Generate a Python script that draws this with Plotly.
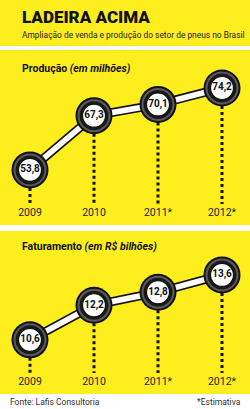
import plotly.graph_objects as go

years = ["2009", "2010", "2011*", "2012*"]
producao = [53.8, 67.3, 70.1, 74.2]
faturamento = [10.6, 12.2, 12.8, 13.6]
labels_prod = ["53,8", "67,3", "70,1", "74,2"]
labels_fat = ["10,6", "12,2", "12,8", "13,6"]

W, H = 250, 409
YELLOW = "#FFEE1D"
FAMILY = "Roboto, Liberation Sans, sans-serif"

def fnt(size, color="#111111", weight=None):
    d = dict(family=FAMILY, size=size, color=color)
    if weight:
        d["weight"] = weight
    return d

def py(px):
    return 1 - px / H

def px_x(px):
    return px / W

xs = list(range(len(years)))

fig = go.Figure()

r1 = [45.3, 81.17]
r2 = [9.07, 14.52]

def add_panel(vals, labels, xa, ya, ymin):
    fig.add_trace(go.Scatter(x=xs, y=vals, mode="lines", xaxis=xa, yaxis=ya,
                             line=dict(color="#111111", width=9), hoverinfo="skip"))
    fig.add_trace(go.Scatter(x=xs, y=vals, mode="lines", xaxis=xa, yaxis=ya,
                             line=dict(color="white", width=5.5), hoverinfo="skip"))
    for x, v in zip(xs, vals):
        fig.add_trace(go.Scatter(x=[x, x], y=[v, ymin], mode="lines", xaxis=xa, yaxis=ya,
                                 line=dict(color="#111111", width=3, dash="dot"),
                                 hoverinfo="skip"))
    for size, color in [(37, "#111111"), (33, "#5c5c5c"), (29, "#1a1a1a")]:
        fig.add_trace(go.Scatter(x=xs, y=vals, mode="markers", xaxis=xa, yaxis=ya,
                                 marker=dict(size=size, color=color, line=dict(width=0)),
                                 hoverinfo="skip"))
    fig.add_trace(go.Scatter(x=xs, y=vals, mode="markers+text", xaxis=xa, yaxis=ya,
                             marker=dict(size=23, color="white",
                                         line=dict(color="#111111", width=1.2)),
                             text=["<b>%s</b>" % l for l in labels],
                             textposition="middle center",
                             textfont=fnt(10),
                             hoverinfo="skip"))

add_panel(producao, labels_prod, "x", "y", r1[0])
add_panel(faturamento, labels_fat, "x2", "y2", r2[0])

xrange = [-30 / 64, (250 - 30) / 64]
axis_x = dict(range=xrange, domain=[0, 1], showgrid=False, zeroline=False, showline=False,
              ticks="", tickmode="array", tickvals=xs, ticktext=years,
              tickfont=fnt(10.5, "#222222"), fixedrange=True)

fig.update_layout(
    width=W, height=H, margin=dict(l=0, r=0, t=0, b=0),
    paper_bgcolor="white", plot_bgcolor="rgba(0,0,0,0)",
    showlegend=False, hovermode=False,
    xaxis=dict(axis_x, anchor="y"),
    xaxis2=dict(axis_x, anchor="y2"),
    yaxis=dict(range=r1, domain=[py(204), py(60)], visible=False, anchor="x", fixedrange=True),
    yaxis2=dict(range=r2, domain=[py(373), py(255)], visible=False, anchor="x2", fixedrange=True),
    shapes=[
        dict(type="rect", xref="paper", yref="paper", x0=0, x1=1, y0=py(46), y1=py(0),
             fillcolor=YELLOW, line=dict(width=0), layer="below"),
        dict(type="rect", xref="paper", yref="paper", x0=0, x1=1, y0=py(225), y1=py(50),
             fillcolor=YELLOW, line=dict(width=0), layer="below"),
        dict(type="rect", xref="paper", yref="paper", x0=0, x1=1, y0=py(394), y1=py(231),
             fillcolor=YELLOW, line=dict(width=0), layer="below"),
    ],
    annotations=[
        dict(text="LADEIRA ACIMA", xref="paper", yref="paper", x=px_x(20), y=py(17),
             xanchor="left", yanchor="middle", showarrow=False, font=fnt(17, weight=900)),
        dict(text="Ampliação de venda e produção do setor de pneus no Brasil",
             xref="paper", yref="paper", x=px_x(20), y=py(35),
             xanchor="left", yanchor="middle", showarrow=False, font=fnt(8.4, "#222222")),
        dict(text="<b>Produção <i>(em milhões)</i></b>", xref="paper", yref="paper",
             x=px_x(20), y=py(69), xanchor="left", yanchor="middle", showarrow=False,
             font=fnt(10.5)),
        dict(text="<b>Faturamento <i>(em R$ bilhões)</i></b>", xref="paper", yref="paper",
             x=px_x(20), y=py(247), xanchor="left", yanchor="middle", showarrow=False,
             font=fnt(10.5)),
        dict(text="Fonte: Lafis Consultoria", xref="paper", yref="paper",
             x=px_x(8), y=py(402), xanchor="left", yanchor="middle", showarrow=False,
             font=fnt(8.5, "#333333")),
        dict(text="*Estimativa", xref="paper", yref="paper",
             x=px_x(243), y=py(402), xanchor="right", yanchor="middle", showarrow=False,
             font=fnt(8.5, "#333333")),
    ],
)

fig.write_html("out.html")
